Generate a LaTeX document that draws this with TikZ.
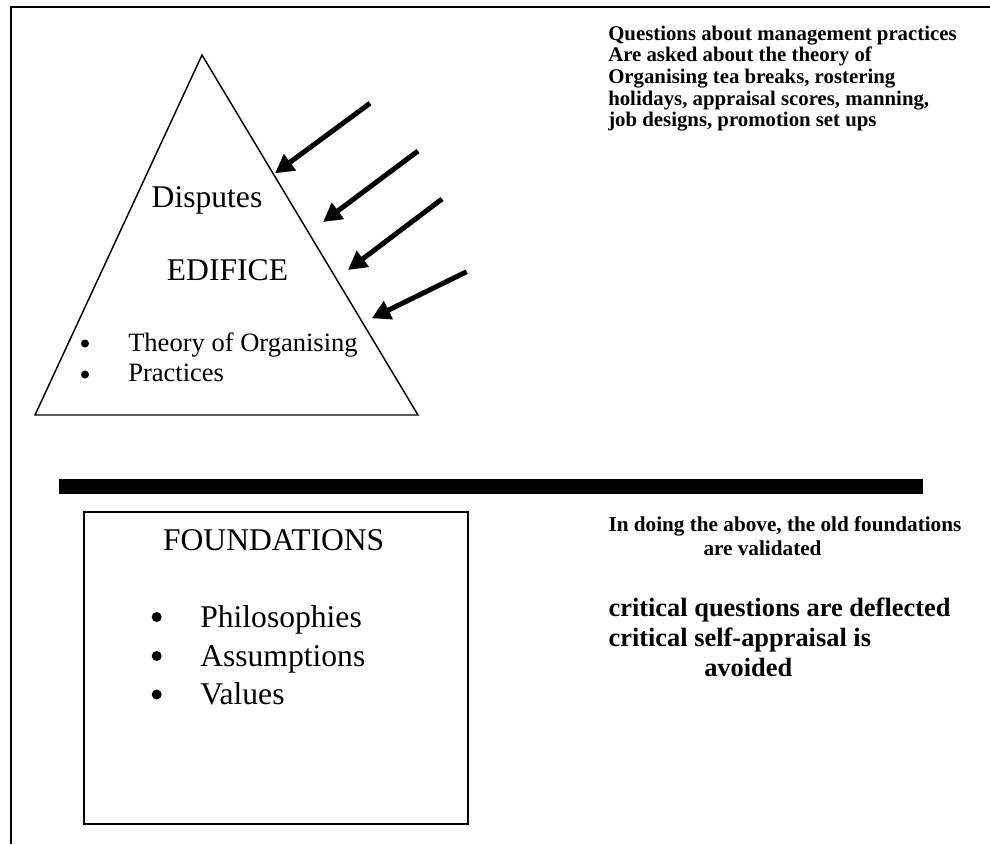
\documentclass[tikz,border=0pt]{standalone}
\usepackage{fontspec}
\setmainfont{Liberation Serif}
\usetikzlibrary{arrows.meta}
\begin{document}
\begin{tikzpicture}[x=0.75pt,y=-0.75pt,
  txt/.style={inner sep=0pt,anchor=base west},
  ctxt/.style={inner sep=0pt,anchor=base},
  bigfont/.style={font=\fontsize{23.7}{28}\selectfont},
  tlist/.style={font=\fontsize{19.9}{24}\selectfont},
  qfont/.style={font=\fontsize{15.6}{18}\selectfont\bfseries},
  vfont/.style={font=\fontsize{15.9}{18}\selectfont\bfseries},
  cfont/.style={font=\fontsize{19.8}{23}\selectfont\bfseries},
  smalldot/.style={circle,fill,inner sep=0pt,minimum size=6pt},
  bigdot/.style={circle,fill,inner sep=0pt,minimum size=7.5pt},
  pusharrow/.style={line width=3.75pt,-{Triangle[length=14pt,width=14.5pt]}},
  frameline/.style={line width=1.5pt}]
\useasboundingbox (0,0) rectangle (990,844);
% outer frame
\coordinate (fbl) at (11,844);
\coordinate (ftl) at (11,7);
\coordinate (ftr) at (990,7);
\draw[frameline] (fbl) -- (ftl) -- (ftr);
% triangle
\coordinate (apex) at (202,55);
\coordinate (tbl) at (35,415);
\coordinate (tbr) at (418,415);
\draw[line width=1.1pt,line join=miter] (apex) -- (tbl) -- (tbr) -- cycle;
\node[ctxt,bigfont] (disp) at (207,207) {Disputes};
\node[ctxt,bigfont] (edif) at (227.5,280) {EDIFICE};
\node[smalldot] (b1) at (85,343.5) {};
\node[txt,tlist] (theory) at (128,351.7) {Theory of Organising};
\node[smalldot] (b2) at (85,374.5) {};
\node[txt,tlist] (pract) at (128,381.7) {Practices};
% arrows
\coordinate (a1s) at (370,103.3);  \coordinate (a1e) at (275,173.3);
\coordinate (a2s) at (418,151);    \coordinate (a2e) at (323,222);
\coordinate (a3s) at (442,199);    \coordinate (a3e) at (348,270);
\coordinate (a4s) at (466.7,271.7);\coordinate (a4e) at (371.7,318.3);
\draw[pusharrow] (a1s) -- (a1e);
\draw[pusharrow] (a2s) -- (a2e);
\draw[pusharrow] (a3s) -- (a3e);
\draw[pusharrow] (a4s) -- (a4e);
% top right text
\node[txt,qfont] (q1) at (608,40) {Questions about management practices};
\node[txt,qfont] (q2) at (608,61.7) {Are asked about the theory of};
\node[txt,qfont] (q3) at (608,83.3) {Organising tea breaks, rostering};
\node[txt,qfont] (q4) at (608,105) {holidays, appraisal scores, manning,};
\node[txt,qfont] (q5) at (608,126.7) {job designs, promotion set ups};
% bar
\fill (59,479) rectangle (923,494);
% foundations box
\node[draw,line width=1.5pt,inner sep=0pt,minimum width=384.3*0.75pt,minimum height=312*0.75pt,anchor=north west] (fbox) at (82.7,510.7) {};
\node[ctxt,bigfont] (found) at (273.7,550.7) {FOUNDATIONS};
\node[bigdot] (fb1) at (156.7,617) {};
\node[txt,bigfont] (phil) at (200,627) {Philosophies};
\node[bigdot] (fb2) at (156.7,656) {};
\node[txt,bigfont] (assu) at (200,666) {Assumptions};
\node[bigdot] (fb3) at (156.7,694.5) {};
\node[txt,bigfont] (valu) at (200,704) {Values};
% bottom right text
\node[txt,vfont] (v1) at (608.3,531.7) {In doing the above, the old foundations};
\node[txt,vfont] (v2) at (703.3,555) {are validated};
\node[txt,cfont] (c1) at (608.3,616.7) {critical questions are deflected};
\node[txt,cfont] (c2) at (608.3,646.5) {critical self-appraisal is};
\node[txt,cfont] (c3) at (704,676.7) {avoided};
\end{tikzpicture}
\end{document}
